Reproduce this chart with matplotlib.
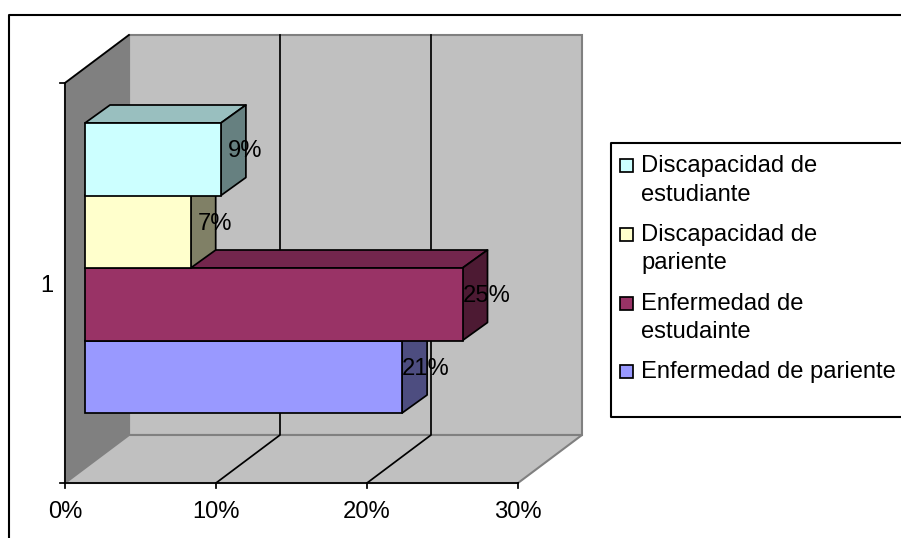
import numpy as np
import matplotlib
matplotlib.use("Agg")
import matplotlib.pyplot as plt
from matplotlib.patches import Rectangle

plt.rcParams['font.family'] = ['Liberation Sans', 'DejaVu Sans']

# bottom to top, the order the bars stack in
series = ["Enfermedad de pariente", "Enfermedad de\nestudainte",
          "Discapacidad de\npariente", "Discapacidad de\nestudiante"]
values = [0.21, 0.25, 0.07, 0.09]
colors = ["#9999FF", "#993366", "#FFFFCC", "#CCFFFF"]
x_ticks = [0, 0.1, 0.2, 0.3]
x_tick_labels = ["0%", "10%", "20%", "30%"]

W, H = 901, 538
fs = 17.1
fig = plt.figure(figsize=(W / 100, H / 100), dpi=100, facecolor="white")

# overlay in pixels for the outer frame and legend box
px = fig.add_axes([0, 0, 1, 1], zorder=2)
px.set_xlim(0, W)
px.set_ylim(H, 0)
px.axis("off")
px.patch.set_alpha(0)

# chart axes: x in fraction, category 1 centred, floor at 0.5 and top at 1.5
ax = fig.add_axes([0, 0, 1, 1], zorder=1)
x_scale = 1510.0   # pixels per unit
y_scale = 400.0
ax.set_xlim(-65 / x_scale, (W - 65) / x_scale)
ax.set_ylim(1.5 - (H - 83) / y_scale, 1.5 + 83 / y_scale)
ax.axis("off")

xmax = x_ticks[-1]
y0, y1 = 0.5, 1.5
wall_dx, wall_dy = 64 / x_scale, 48 / y_scale     # full depth of the box
bar_dx, bar_dy = 25 / x_scale, 18 / y_scale       # depth of one bar
off_x, off_y = 20 / x_scale, 15 / y_scale         # gap from front of box to bar
bar_h = 72.5 / y_scale

lw = 1.25
# walls and floor
ax.fill([wall_dx, xmax + wall_dx, xmax + wall_dx, wall_dx],
        [y0 + wall_dy, y0 + wall_dy, y1 + wall_dy, y1 + wall_dy],
        fc="#C0C0C0", ec="#808080", lw=1.5, zorder=0.1)
ax.fill([0, wall_dx, wall_dx, 0], [y0, y0 + wall_dy, y1 + wall_dy, y1],
        fc="#808080", ec="#808080", lw=1.5, zorder=0.2)
ax.fill([0, xmax, xmax + wall_dx, wall_dx], [y0, y0, y0 + wall_dy, y0 + wall_dy],
        fc="#C0C0C0", ec="#808080", lw=1.5, zorder=0.2)

# gridlines, behind the bars
for t in x_ticks[1:-1]:
    ax.plot([t, t + wall_dx, t + wall_dx], [y0, y0 + wall_dy, y1 + wall_dy],
            color="black", lw=lw, zorder=0.5)

# axis lines and ticks
ax.plot([0, 0], [y0, y1], color="black", lw=lw, zorder=0.6)
ax.plot([0, wall_dx], [y1, y1 + wall_dy], color="black", lw=lw, zorder=0.6)
ax.plot([0, xmax], [y0, y0], color="black", lw=lw, zorder=0.6)
for t, lab in zip(x_ticks, x_tick_labels):
    ax.plot([t, t], [y0, y0 - 5 / y_scale], color="black", lw=lw)
    ax.text(t, y0 - 28.5 / y_scale, lab, ha="center", va="center", fontsize=fs, color="black")
for yy in [y0, y1]:
    ax.plot([-5 / x_scale, 0], [yy, yy], color="black", lw=lw)
ax.text(-18 / x_scale, 1 - 2.5 / y_scale, "1", ha="center", va="center", fontsize=fs, color="black")


def shade(c, k):
    r = np.array(matplotlib.colors.to_rgb(c))
    return tuple(r * k)


# bars, drawn bottom up so each covers the top of the one below
n = len(values)
base = 1 + off_y - n * bar_h / 2
for i, (v, c) in enumerate(zip(values, colors)):
    b = base + i * bar_h
    t = b + bar_h
    x0 = off_x
    x1 = off_x + v
    z = 1 + i
    ax.fill([x0, x1, x1 + bar_dx, x0 + bar_dx], [t, t, t + bar_dy, t + bar_dy],
            fc=shade(c, 0.75), ec="black", lw=lw, joinstyle="round", zorder=z)
    ax.fill([x1, x1 + bar_dx, x1 + bar_dx, x1], [b, b + bar_dy, t + bar_dy, t],
            fc=shade(c, 0.5), ec="black", lw=lw, joinstyle="round", zorder=z)
    ax.barh(b, v, height=bar_h, left=x0, align="edge", color=c, edgecolor="black",
            linewidth=lw, zorder=z)

# value labels on top of everything
for i, v in enumerate(values):
    b = base + i * bar_h
    ax.text(off_x + v + 24 / x_scale, b + bar_h / 2 + 8 / y_scale, f"{v:.0%}",
            ha="center", va="center", fontsize=fs, color="black", zorder=10)

# chart frame, open at the right and bottom edges of the image
px.plot([9, 9, W + 2], [H + 2, 14.5, 14.5], color="black", lw=1.5, clip_on=False)

# legend box
px.plot([W + 2, 610.5, 610.5, W + 2], [143, 143, 417, 417], color="black", lw=1.5)
line_gap = 29
leg_rows = [(166, 3), (234.5, 2), (303.5, 1), (372, 0)]
for yy, i in leg_rows:
    px.add_patch(Rectangle((620, yy - 7), 13, 13, fc=colors[i], ec="black", lw=1.25))
    for j, part in enumerate(series[i].split("\n")):
        px.text(641, yy + j * line_gap, part, ha="left", va="center", fontsize=fs, color="black")

fig.savefig("out.png", dpi=100, facecolor="white")
